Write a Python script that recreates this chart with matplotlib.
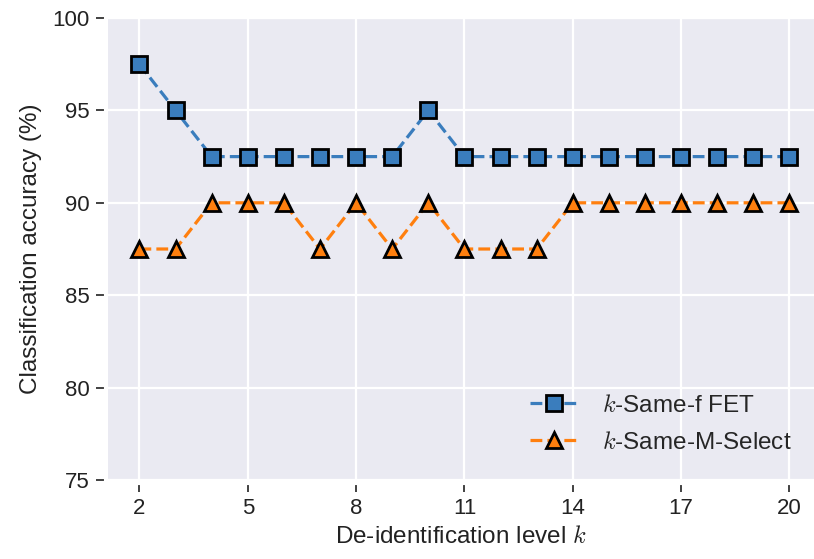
import numpy as np
import matplotlib
matplotlib.use("Agg")
import matplotlib.pyplot as plt
import seaborn as sns

k = np.arange(2, 21)
fet = [97.5, 95, 92.5, 92.5, 92.5, 92.5, 92.5, 92.5, 95, 92.5,
       92.5, 92.5, 92.5, 92.5, 92.5, 92.5, 92.5, 92.5, 92.5]
msel = [87.5, 87.5, 90, 90, 90, 87.5, 90, 87.5, 90, 87.5,
        87.5, 87.5, 90, 90, 90, 90, 90, 90, 90]

sns.set_style("darkgrid", {"xtick.bottom": True, "ytick.left": True})
plt.rcParams['font.family'] = ['Liberation Sans', 'DejaVu Sans']
plt.rcParams['mathtext.fontset'] = 'cm'

fig, ax = plt.subplots(figsize=(8.14, 5.59), dpi=100)
fig.subplots_adjust(left=0.1327, right=1.0, top=0.9678, bottom=0.1413)

ax.plot(k, fet, '--s', color='#3a7dbd', lw=2.3, markersize=12,
        markeredgecolor='black', markeredgewidth=2, label='$k$-Same-f FET')
ax.plot(k, msel, '--^', color='#ff7f0e', lw=2.3, markersize=12,
        markeredgecolor='black', markeredgewidth=2, label='$k$-Same-M-Select')

ax.grid(color='white', linewidth=1.6)
for s in ['left', 'bottom']:
    ax.spines[s].set_position(('outward', 3))

ax.set_xlim(1.13, 20.68)
ax.set_ylim(75, 100)
ax.set_xticks(np.arange(2, 21, 3))
ax.set_yticks(np.arange(75, 101, 5))
ax.tick_params(axis='both', labelsize=16, length=6, width=1.3, pad=4,
               color='#333333', labelcolor='#222222')
ax.set_xlabel('De-identification level $k$', fontsize=17.5, color='#222222', labelpad=5)
ax.set_ylabel('Classification accuracy (%)', fontsize=17.5, color='#222222', labelpad=8)

ax.legend(loc='lower right', frameon=False, fontsize=17.5, handlelength=2,
          handletextpad=1.0, labelspacing=0.6, bbox_to_anchor=(1.0, 0.01))

fig.savefig('out.png', dpi=100)
